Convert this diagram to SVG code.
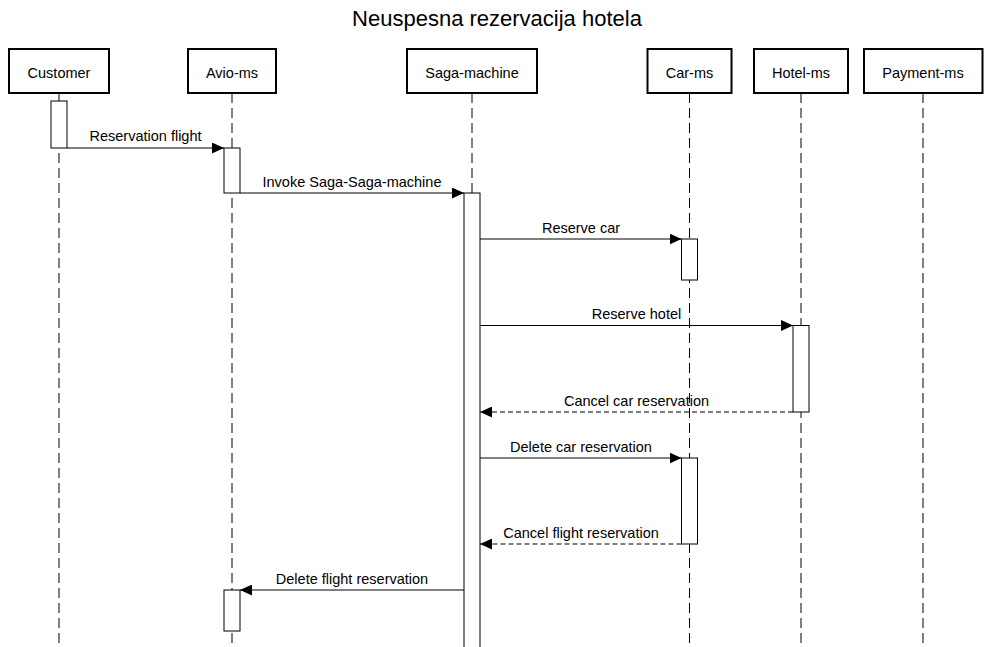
<svg xmlns="http://www.w3.org/2000/svg" width="993" height="647" viewBox="0 0 993 647">
  <style>
    .box { fill: #ffffff; stroke: #000000; stroke-width: 2; }
    .life { stroke: #000000; stroke-width: 1; stroke-dasharray: 10 5; fill: none; }
    .bar { fill: #ffffff; stroke: #000000; stroke-width: 1; }
    .msg { stroke: #000000; stroke-width: 1; fill: none; marker-end: url(#arrow); }
    .ret { stroke-dasharray: 5 3; }
    .lbl { font-family: "Liberation Sans", Arial, sans-serif; font-size: 14.5px; fill: #000000; text-anchor: middle; }
    .title { font-family: "Liberation Sans", Arial, sans-serif; font-size: 22px; fill: #000000; text-anchor: middle; }
  </style>
  <defs>
    <marker id="arrow" markerUnits="userSpaceOnUse" markerWidth="12" markerHeight="11" refX="12" refY="5.5" orient="auto">
      <path d="M0,0 L12,5.5 L0,11 z" fill="#000000"/>
    </marker>
  </defs>
  <rect x="0" y="0" width="993" height="647" fill="#ffffff"/>
  <text class="title" x="497" y="26">Neuspesna rezervacija hotela</text>

  <g id="customer">
    <line class="life" x1="59" y1="93" x2="59" y2="647"/>
    <rect class="box" x="9" y="49" width="100" height="44"/>
    <text class="lbl" x="59" y="77.5">Customer</text>
    <rect class="bar" x="51" y="101" width="16" height="47"/>
  </g>
  <g id="avio-ms">
    <line class="life" x1="232" y1="93" x2="232" y2="647"/>
    <rect class="box" x="188" y="49" width="88" height="44"/>
    <text class="lbl" x="232" y="77.5">Avio-ms</text>
    <rect class="bar" x="224" y="148" width="16" height="45"/>
    <rect class="bar" x="224" y="590" width="16" height="41"/>
  </g>
  <g id="saga-machine">
    <line class="life" x1="472" y1="93" x2="472" y2="647"/>
    <rect class="box" x="407" y="49" width="130" height="44"/>
    <text class="lbl" x="472" y="77.5">Saga-machine</text>
    <rect class="bar" x="464" y="193" width="16" height="470"/>
  </g>
  <g id="car-ms">
    <line class="life" x1="689.5" y1="93" x2="689.5" y2="647"/>
    <rect class="box" x="647.5" y="49" width="84" height="44"/>
    <text class="lbl" x="689.5" y="77.5">Car-ms</text>
    <rect class="bar" x="681.5" y="239" width="16" height="41"/>
    <rect class="bar" x="681.5" y="458" width="16" height="86"/>
  </g>
  <g id="hotel-ms">
    <line class="life" x1="801" y1="93" x2="801" y2="647"/>
    <rect class="box" x="754" y="49" width="94" height="44"/>
    <text class="lbl" x="801" y="77.5">Hotel-ms</text>
    <rect class="bar" x="793" y="325.5" width="16" height="86.5"/>
  </g>
  <g id="payment-ms">
    <line class="life" x1="923" y1="93" x2="923" y2="647"/>
    <rect class="box" x="864" y="49" width="118.5" height="44"/>
    <text class="lbl" x="923" y="77.5">Payment-ms</text>
  </g>

  <g id="connectors">
    <line class="msg" x1="67" y1="148" x2="224" y2="148"/>
    <text class="lbl" x="145.5" y="141">Reservation flight</text>

    <line class="msg" x1="240" y1="193" x2="464" y2="193"/>
    <text class="lbl" x="352" y="186.5">Invoke Saga-Saga-machine</text>

    <line class="msg" x1="480" y1="239" x2="681.5" y2="239"/>
    <text class="lbl" x="581" y="232.5">Reserve car</text>

    <line class="msg" x1="480" y1="325.5" x2="793" y2="325.5"/>
    <text class="lbl" x="636.5" y="319">Reserve hotel</text>

    <line class="msg ret" x1="793" y1="412" x2="480" y2="412"/>
    <text class="lbl" x="636.5" y="405.5">Cancel car reservation</text>

    <line class="msg" x1="480" y1="458" x2="681.5" y2="458"/>
    <text class="lbl" x="581" y="451.5">Delete car reservation</text>

    <line class="msg ret" x1="681.5" y1="544" x2="480" y2="544"/>
    <text class="lbl" x="581" y="537.5">Cancel flight reservation</text>

    <line class="msg" x1="464" y1="590" x2="240" y2="590"/>
    <text class="lbl" x="352" y="583.5">Delete flight reservation</text>
  </g>
</svg>
